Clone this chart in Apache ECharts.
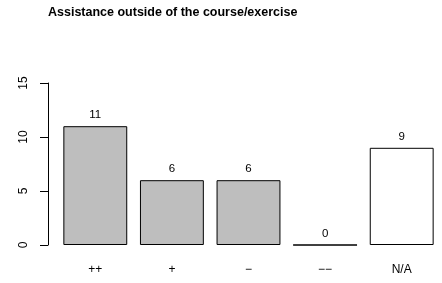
<!DOCTYPE html>
<html lang="en">
<head>
    <meta charset="UTF-8">
    <title>Assistance outside of the course/exercise</title>
    <style>
        body { margin: 0; background: #fff; }
        #main { width: 442px; height: 283px; }
    </style>
</head>
<body>
    <div id="main"></div>
    <script src="https://cdn.jsdelivr.net/npm/echarts/dist/echarts.min.js"></script>
    <script>
        // data
        var categories = ['++', '+', '\u2212', '\u2212\u2212', 'N/A'];
        var counts = [11, 6, 6, 0, 9];
        var fills = ['#bebebe', '#bebebe', '#bebebe', '#bebebe', '#ffffff'];
        var yTicks = [0, 5, 10, 15];

        var myChart = echarts.init(document.getElementById('main'));
        var option = {
            animation: false,
            textStyle: { fontFamily: 'Liberation Sans, Arial, sans-serif' },
            title: {
                text: 'Assistance outside of the course/exercise',
                left: 43,
                top: 1,
                textStyle: { fontSize: 12.5, fontWeight: 'bold', color: '#000', fontFamily: 'Liberation Sans, Arial, sans-serif' }
            },
            grid: { left: 57, right: 2, top: 83, bottom: 38 },
            xAxis: {
                type: 'category',
                data: categories,
                axisLine: { show: false },
                axisTick: { show: false },
                axisLabel: { color: '#000', fontSize: 12, margin: 19, interval: 0 }
            },
            yAxis: {
                type: 'value',
                min: yTicks[0],
                max: yTicks[yTicks.length - 1],
                interval: 5,
                offset: 9,
                splitLine: { show: false },
                axisLine: { show: true, lineStyle: { color: '#000', width: 1 } },
                axisTick: { show: true, length: 8, lineStyle: { color: '#000' } },
                axisLabel: { color: '#000', fontSize: 12, rotate: 90, margin: 18 }
            },
            series: [{
                type: 'bar',
                barCategoryGap: '16.6%',
                data: counts.map(function (v, i) {
                    return { value: v, itemStyle: { color: fills[i] } };
                }),
                itemStyle: { borderColor: '#000', borderWidth: 1 },
                label: { show: true, position: 'top', distance: 5, color: '#000', fontSize: 11.5 }
            }]
        };
        myChart.setOption(option);
    </script>
</body>
</html>
